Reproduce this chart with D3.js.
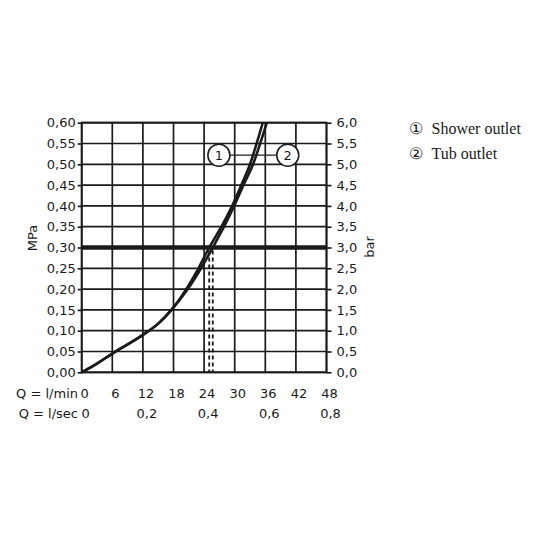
<!DOCTYPE html>
<html lang="en">
    <head>
        <meta charset="utf-8">
        <title>Flow chart</title>
        <script src="https://cdn.jsdelivr.net/npm/d3@7"></script>
        <style type="text/css">
        body { margin: 0; background: #fff; }
        text { font-family: "DejaVu Sans", sans-serif; font-size: 13px; fill: #1a1a1a; }
        .legend text { font-family: "Liberation Serif", "Times New Roman", serif; font-size: 16px; }
        </style>
    </head>
    <body>
        <script type="text/javascript">
            // chart size, same as window
            var w = 536;
            var h = 536;

            // data
            var flowTicks = [0, 6, 12, 18, 24, 30, 36, 42, 48];          // l/min
            var secTicks = [0, 12, 24, 36, 48];                          // positions in l/min
            var secLabels = ["0", "0,2", "0,4", "0,6", "0,8"];           // l/sec
            var mpaTicks = [0, 0.05, 0.10, 0.15, 0.20, 0.25, 0.30, 0.35, 0.40, 0.45, 0.50, 0.55, 0.60];

            var showerFlow = [0, 3, 6, 9, 12, 15, 17.6, 20.5, 22.9, 25.0, 27.4, 29.5, 31.3, 33.0, 34.3, 35.5];
            var showerMPa  = [0, 0.021, 0.045, 0.067, 0.090, 0.117, 0.15, 0.20, 0.25, 0.30, 0.35, 0.40, 0.45, 0.50, 0.55, 0.60];
            var tubFlow = [0, 3, 6, 9, 12, 15, 17.6, 20.8, 23.4, 25.7, 27.9, 29.9, 31.7, 33.6, 35.0, 36.3];
            var tubMPa  = [0, 0.021, 0.045, 0.067, 0.090, 0.117, 0.15, 0.20, 0.25, 0.30, 0.35, 0.40, 0.45, 0.50, 0.55, 0.60];

            var refMPa = 0.30;            // the thick line (3 bar)
            var legendItems = ["Shower outlet", "Tub outlet"];
            var legendMarks = ["\u2460", "\u2461"];

            // plot box ("top" is taken by window.top, so px names)
            var pxLeft = 81.7, pxRight = 326.5, pxTop = 122.7, pxBottom = 372.3;

            var x = d3.scaleLinear().domain([0, 48]).range([pxLeft, pxRight]);
            var y = d3.scaleLinear().domain([0, 0.6]).range([pxBottom, pxTop]);
            var yBar = d3.scaleLinear().domain([0, 6]).range([pxBottom, pxTop]);

            var svg = d3.select("body")
                        .append("svg")
                        .attr("width", w)
                        .attr("height", h);

            var ink = "#1a1a1a";
            var comma = function(digits) {
                return function(d) { return d3.format("." + digits + "f")(d).replace(".", ","); };
            };

            // grid: vertical lines
            svg.append("g")
                .selectAll("line")
                .data(flowTicks)
                .enter()
                .append("line")
                .attr("x1", function(d) { return x(d); })
                .attr("x2", function(d) { return x(d); })
                .attr("y1", pxTop)
                .attr("y2", pxBottom)
                .attr("stroke", ink)
                .attr("stroke-width", 1.7);

            // grid: horizontal lines
            svg.append("g")
                .selectAll("line")
                .data(mpaTicks)
                .enter()
                .append("line")
                .attr("x1", pxLeft)
                .attr("x2", pxRight)
                .attr("y1", function(d) { return y(d); })
                .attr("y2", function(d) { return y(d); })
                .attr("stroke", ink)
                .attr("stroke-width", 1.7);

            // left axis in MPa
            var gl = svg.append("g")
                .attr("transform", "translate(" + pxLeft + ",0)")
                .call(d3.axisLeft(y).tickValues(mpaTicks).tickFormat(comma(2)).tickSize(4).tickPadding(2));
            // right axis in bar
            var gr = svg.append("g")
                .attr("transform", "translate(" + pxRight + ",0)")
                .call(d3.axisRight(yBar).tickValues(mpaTicks.map(function(d) { return d * 10; })).tickFormat(comma(1)).tickSize(5).tickPadding(5));
            [gl, gr].forEach(function(g) {
                g.select(".domain").remove();
                g.selectAll("line").attr("stroke", ink).attr("stroke-width", 1.7);
                g.selectAll("text").attr("font-family", "DejaVu Sans").attr("font-size", "13px").attr("fill", ink);
            });

            // thick 3 bar line
            svg.append("line")
                .attr("x1", pxLeft)
                .attr("x2", pxRight)
                .attr("y1", y(refMPa))
                .attr("y2", y(refMPa))
                .attr("stroke", ink)
                .attr("stroke-width", 4.5);

            // dashed drops where the curves meet 3 bar
            var crossings = [showerFlow[showerMPa.indexOf(refMPa)], tubFlow[tubMPa.indexOf(refMPa)]];
            svg.selectAll("line.drop")
                .data(crossings)
                .enter()
                .append("line")
                .attr("class", "drop")
                .attr("x1", function(d) { return x(d); })
                .attr("x2", function(d) { return x(d); })
                .attr("y1", y(refMPa) + 3)
                .attr("y2", pxBottom)
                .attr("stroke", ink)
                .attr("stroke-width", 1.8)
                .attr("stroke-dasharray", "4,3");

            // curves
            var line = d3.line()
                .x(function(d) { return x(d[0]); })
                .y(function(d) { return y(d[1]); })
                .curve(d3.curveMonotoneX);
            var curves = [d3.zip(showerFlow, showerMPa), d3.zip(tubFlow, tubMPa)];
            svg.selectAll("path.curve")
                .data(curves)
                .enter()
                .append("path")
                .attr("class", "curve")
                .attr("d", line)
                .attr("fill", "none")
                .attr("stroke", ink)
                .attr("stroke-width", 2.6);

            // outer box
            svg.append("rect")
                .attr("x", pxLeft)
                .attr("y", pxTop)
                .attr("width", pxRight - pxLeft)
                .attr("height", pxBottom - pxTop)
                .attr("fill", "none")
                .attr("stroke", ink)
                .attr("stroke-width", 1.8);

            // circled labels 1 and 2 with the joining line
            var tags = [[26.9, 0.522, "1"], [40.4, 0.522, "2"]];
            svg.append("line")
                .attr("x1", x(tags[0][0]) + 11)
                .attr("x2", x(tags[1][0]) - 11)
                .attr("y1", y(tags[0][1]))
                .attr("y2", y(tags[0][1]))
                .attr("stroke", ink)
                .attr("stroke-width", 1.4);
            var tag = svg.selectAll("g.tag")
                .data(tags)
                .enter()
                .append("g")
                .attr("class", "tag")
                .attr("transform", function(d) { return "translate(" + x(d[0]) + "," + y(d[1]) + ")"; });
            tag.append("circle")
                .attr("r", 11)
                .attr("fill", "#fff")
                .attr("stroke", ink)
                .attr("stroke-width", 1.5);
            tag.append("text")
                .text(function(d) { return d[2]; })
                .attr("text-anchor", "middle")
                .attr("dy", "0.36em")
                .attr("font-size", "15px");

            // x labels, two rows
            svg.append("text").attr("x", 78).attr("y", 398).attr("text-anchor", "end").text("Q = l/min");
            svg.append("text").attr("x", 78).attr("y", 418).attr("text-anchor", "end").text("Q = l/sec");
            svg.selectAll("text.xmin")
                .data(flowTicks)
                .enter()
                .append("text")
                .attr("class", "xmin")
                .attr("x", function(d) { return x(d) + 3; })
                .attr("y", 398)
                .attr("text-anchor", "middle")
                .text(function(d) { return d; });
            svg.selectAll("text.xsec")
                .data(secTicks)
                .enter()
                .append("text")
                .attr("class", "xsec")
                .attr("x", function(d) { return x(d) + 4; })
                .attr("y", 418)
                .attr("text-anchor", "middle")
                .text(function(d, i) { return secLabels[i]; });

            // axis titles
            svg.append("text")
                .attr("transform", "translate(37,238) rotate(-90)")
                .attr("text-anchor", "middle")
                .text("MPa");
            svg.append("text")
                .attr("transform", "translate(374,247) rotate(-90)")
                .attr("text-anchor", "middle")
                .text("bar");

            // legend
            var lg = svg.append("g").attr("class", "legend");
            lg.selectAll("text.mark")
                .data(legendMarks)
                .enter()
                .append("text")
                .attr("class", "mark")
                .attr("x", 409)
                .attr("y", function(d, i) { return 134 + i * 24.5; })
                .text(function(d) { return d; });
            lg.selectAll("text.item")
                .data(legendItems)
                .enter()
                .append("text")
                .attr("class", "item")
                .attr("x", 431.5)
                .attr("y", function(d, i) { return 134 + i * 24.5; })
                .text(function(d) { return d; });
        </script>
    </body>
</html>
